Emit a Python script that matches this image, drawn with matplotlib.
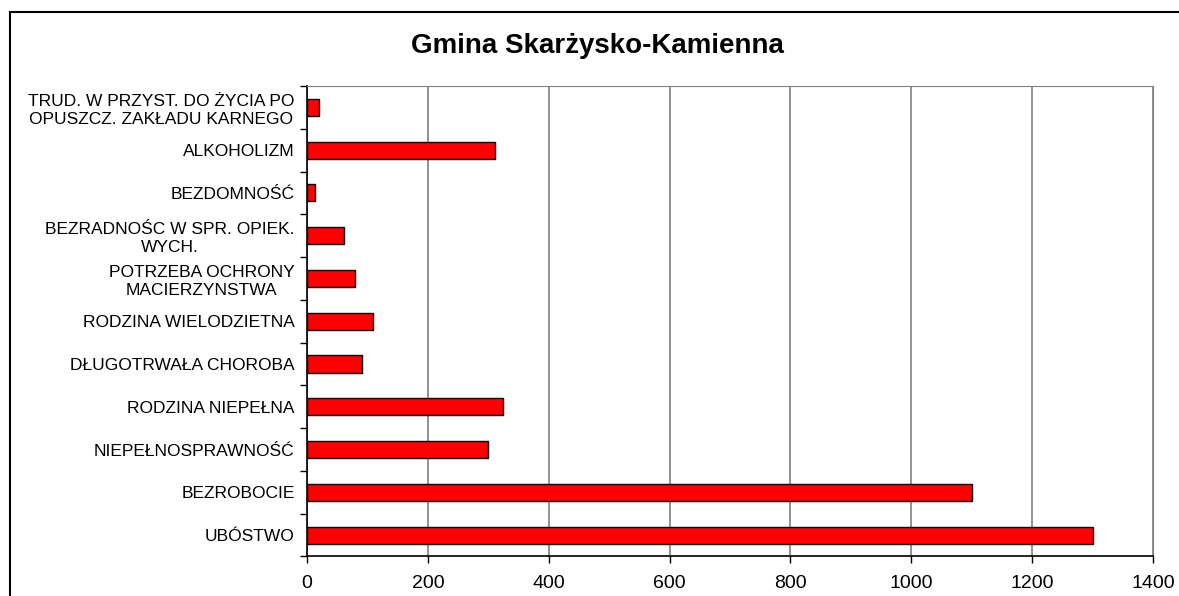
import numpy as np
import matplotlib.pyplot as plt
from matplotlib.patches import Rectangle

plt.rcParams['font.family'] = ['Liberation Sans', 'DejaVu Sans']

# Dane (od dołu wykresu)
kategorie = [
    "UBÓSTWO",
    "BEZROBOCIE",
    "NIEPEŁNOSPRAWNOŚĆ",
    "RODZINA NIEPEŁNA",
    "DŁUGOTRWAŁA CHOROBA",
    "RODZINA WIELODZIETNA",
    "POTRZEBA OCHRONY\nMACIERZYNSTWA",
    "BEZRADNOŚC W SPR. OPIEK.\nWYCH.",
    "BEZDOMNOŚĆ",
    "ALKOHOLIZM",
    "TRUD. W PRZYST. DO ŻYCIA PO\nOPUSZCZ. ZAKŁADU KARNEGO",
]
wartosci = [1300, 1100, 300, 325, 91, 109, 80, 62, 13, 311, 20]
x_ticki = [0, 200, 400, 600, 800, 1000, 1200, 1400]

fig = plt.figure(figsize=(11.79, 5.96), dpi=100)
ax = fig.add_axes([0.2604, 0.0663, 0.978 - 0.2604, 0.8557 - 0.0663])

# ramka wokół całego wykresu
fig.patches.append(Rectangle((10 / 1179, -0.2), 1.2, 0.2 + 1 - 12 / 596,
                             transform=fig.transFigure, fill=False,
                             edgecolor='black', linewidth=1.5, zorder=0))

# Słupki
y = np.arange(len(kategorie))
ax.barh(y, wartosci, height=0.4, color='#FF0000', edgecolor='black',
        linewidth=1, zorder=3)

ax.set_xlim(0, 1400)
ax.set_ylim(-0.5, len(kategorie) - 0.5)
ax.set_xticks(x_ticki)
ax.set_xticklabels([str(v) for v in x_ticki], fontsize=14)
ax.set_yticks(y)
ax.set_yticklabels(kategorie, fontsize=12.5, linespacing=1.25,
                   multialignment='center')
ax.set_yticks(np.arange(len(kategorie) + 1) - 0.5, minor=True)

ax.tick_params(axis='y', which='major', length=0, pad=9)
ax.tick_params(axis='y', which='minor', length=5, width=1, direction='out')
ax.tick_params(axis='x', length=5, width=1, direction='out', pad=8)

ax.xaxis.grid(True, color='#808080', linewidth=1.2, zorder=0)
ax.set_axisbelow(True)

ax.spines['top'].set_color('#808080')
ax.spines['right'].set_color('#808080')
ax.spines['left'].set_linewidth(1.2)
ax.spines['bottom'].set_linewidth(1.2)

fig.text(597 / 1179, 1 - 46 / 596, "Gmina Skarżysko-Kamienna",
         fontsize=20, fontweight='bold', ha='center', va='center')

plt.savefig("out.png", dpi=100)
